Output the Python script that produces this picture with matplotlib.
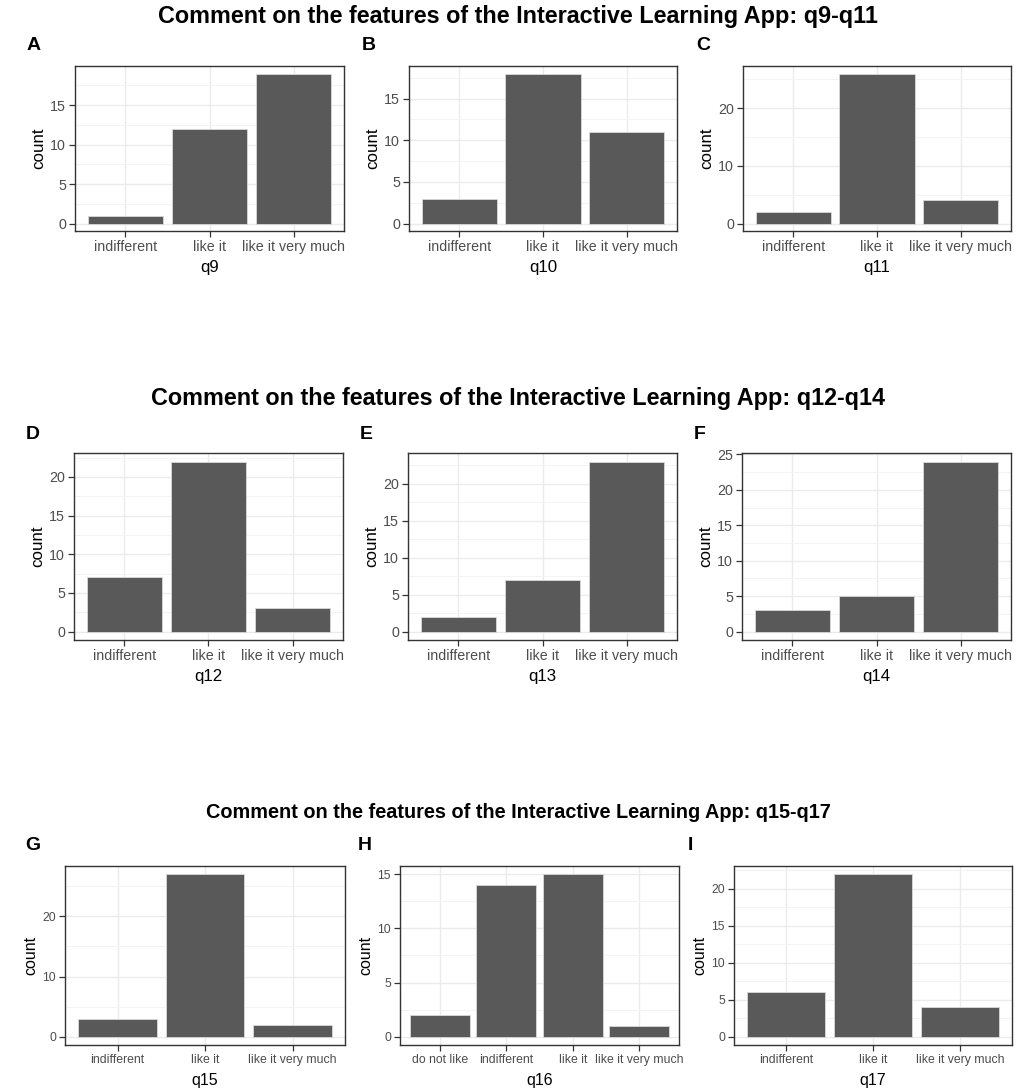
import matplotlib
matplotlib.use("Agg")
import matplotlib.pyplot as plt
from matplotlib.ticker import MultipleLocator

plt.rcParams['font.family'] = ['Liberation Sans', 'DejaVu Sans']

# ---- data ----
cats3 = ["indifferent", "like it", "like it very much"]
cats4 = ["do not like", "indifferent", "like it", "like it very much"]
q9 = [1, 12, 19]
q10 = [3, 18, 11]
q11 = [2, 26, 4]
q12 = [7, 22, 3]
q13 = [2, 7, 23]
q14 = [3, 5, 24]
q15 = [3, 27, 2]
q16 = [2, 14, 15, 1]
q17 = [6, 22, 4]
row_titles = ["Comment on the features of the Interactive Learning App: q9-q11",
              "Comment on the features of the Interactive Learning App: q12-q14",
              "Comment on the features of the Interactive Learning App: q15-q17"]

panels = [
    ("A", "q9", cats3, q9), ("B", "q10", cats3, q10), ("C", "q11", cats3, q11),
    ("D", "q12", cats3, q12), ("E", "q13", cats3, q13), ("F", "q14", cats3, q14),
    ("G", "q15", cats3, q15), ("H", "q16", cats4, q16), ("I", "q17", cats3, q17),
]
steps = [5, 5, 10, 5, 5, 5, 10, 5, 5]

W, H = 1036, 1091
fig = plt.figure(figsize=(W / 100, H / 100), dpi=100)

# pixel boxes (left, right, top, bottom)
boxes = [
    (75, 344, 66, 231), (409, 677, 66, 231), (743, 1011, 66, 231),
    (74, 343, 453, 640), (408, 677, 453, 640), (742, 1011, 453, 640),
    (65, 345, 866, 1045), (400, 679, 866, 1045), (734, 1012, 866, 1045),
]
letter_pos = [(27, 46), (362, 46), (696, 46),
              (26, 434), (360, 434), (694, 434),
              (25, 846), (358, 846), (688, 846)]
title_y = [17, 398, 813]
title_size = [16.8, 16.8, 14.3]
tick_size = [10.3, 10.3, 8.8]
lab_size = [12.2, 12.2, 11.5]
xlabpad = [4.0, 4.5, 5.0]

for i, (letter, xl, cats, vals) in enumerate(panels):
    row = i // 3
    l, r, t, b = boxes[i]
    ax = fig.add_axes([l / W, 1 - b / H, (r - l) / W, (b - t) / H])
    x = list(range(len(cats)))
    ax.bar(x, vals, width=0.9, color="#595959", edgecolor="#D9D9D9",
           linewidth=0.6, zorder=3)
    n = len(cats)
    ax.set_xlim(-0.6, n - 1 + 0.6)
    m = max(vals)
    ax.set_ylim(-0.05 * m, 1.05 * m)
    ax.yaxis.set_major_locator(MultipleLocator(steps[i]))
    ax.yaxis.set_minor_locator(MultipleLocator(steps[i] / 2))
    ax.set_xticks(x)
    ax.set_xticklabels(cats)
    ax.grid(True, which="major", color="#EBEBEB", linewidth=1.0, zorder=0)
    ax.grid(True, which="minor", axis="y", color="#F3F3F3", linewidth=0.7, zorder=0)
    ax.set_axisbelow(True)
    for s in ax.spines.values():
        s.set_color("#333333")
        s.set_linewidth(1.0)
    ax.tick_params(axis="both", which="major", colors="#333333", labelcolor="#4D4D4D",
                   labelsize=tick_size[row], length=4, width=0.9, pad=2.5)
    ax.tick_params(axis="y", which="minor", length=0)
    ax.set_xlabel(xl, fontsize=lab_size[row], color="black", labelpad=xlabpad[row])
    ax.set_ylabel("count", fontsize=lab_size[row], color="black", labelpad=3)
    lx, ly = letter_pos[i]
    fig.text(lx / W, 1 - ly / H, letter, fontsize=14, fontweight="bold",
             ha="left", va="center")

for k in range(3):
    fig.text(0.5, 1 - title_y[k] / H, row_titles[k], fontsize=title_size[k],
             fontweight="bold", ha="center", va="center")

fig.savefig("out.png", dpi=100, facecolor="white")
